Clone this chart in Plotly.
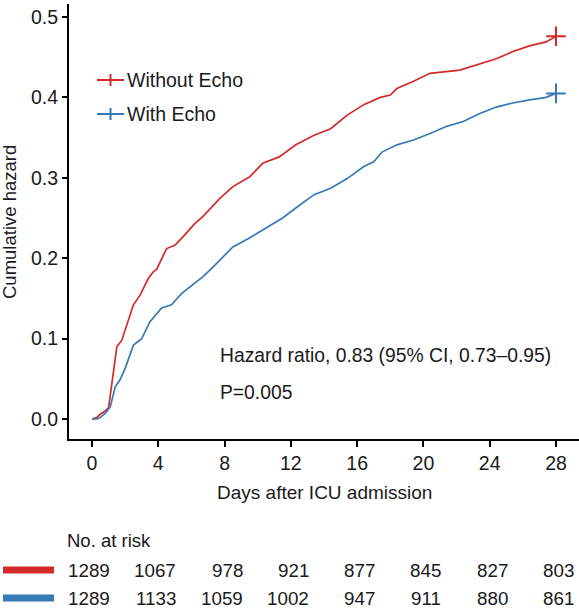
import plotly.graph_objects as go

# ---- data ----
red_days = [0, 0.3, 0.5, 0.8, 1.0, 1.1, 1.3, 1.5, 1.8, 2.2, 2.5, 2.9, 3.4, 3.7, 3.9, 4.5, 5.0, 5.6,
            6.2, 6.7, 7.7, 8.5, 9.5, 10.3, 11.3, 12.3, 13.4, 14.4, 15.4, 16.4, 17.4, 18.0, 18.4,
            19.4, 20.4, 22.2, 23.4, 24.4, 25.4, 26.4, 27.4, 28]
red_haz = [0, 0.002, 0.006, 0.010, 0.014, 0.028, 0.060, 0.090, 0.098, 0.123, 0.142, 0.154, 0.175,
           0.183, 0.186, 0.212, 0.216, 0.229, 0.243, 0.252, 0.274, 0.289, 0.301, 0.318, 0.326,
           0.341, 0.353, 0.361, 0.378, 0.391, 0.400, 0.403, 0.411, 0.420, 0.430, 0.434, 0.442,
           0.448, 0.457, 0.464, 0.469, 0.476]
blue_days = [0, 0.3, 0.5, 0.8, 1.1, 1.4, 1.7, 2.0, 2.5, 3.0, 3.5, 4.2, 4.8, 5.4, 6.2, 6.7, 7.3, 8.5,
             9.5, 10.5, 11.5, 12.4, 13.4, 14.4, 15.4, 16.4, 17.0, 17.5, 18.4, 19.4, 20.4, 21.4,
             22.4, 23.4, 24.4, 25.4, 26.4, 27.4, 28]
blue_haz = [0, 0.0, 0.002, 0.007, 0.015, 0.040, 0.049, 0.063, 0.092, 0.100, 0.121, 0.138, 0.142,
            0.156, 0.169, 0.177, 0.189, 0.214, 0.225, 0.237, 0.250, 0.264, 0.279, 0.287, 0.299,
            0.314, 0.320, 0.332, 0.341, 0.347, 0.355, 0.364, 0.370, 0.380, 0.388, 0.393, 0.397,
            0.400, 0.405]

x_ticks = [0, 4, 8, 12, 16, 20, 24, 28]
y_ticks = [0.0, 0.1, 0.2, 0.3, 0.4, 0.5]
risk_without = [1289, 1067, 978, 921, 877, 845, 827, 803]
risk_with = [1289, 1133, 1059, 1002, 947, 911, 880, 861]
series_names = ["Without Echo", "With Echo"]
hr_text = "Hazard ratio, 0.83 (95% CI, 0.73\u20130.95)"
p_text = "P=0.005"
x_title = "Days after ICU admission"
y_title = "Cumulative hazard"

RED = "#d42a2a"
BLUE = "#3579b5"
FONT = "Liberation Sans, Arial, Helvetica, sans-serif"
TXT = "#1a1a1a"

fig = go.Figure()
for xs, ys, col, name in [(red_days, red_haz, RED, series_names[0]),
                          (blue_days, blue_haz, BLUE, series_names[1])]:
    fig.add_trace(go.Scatter(x=xs, y=ys, mode="lines", line=dict(color=col, width=1.7),
                             name=name, showlegend=False, hoverinfo="skip"))
    fig.add_trace(go.Scatter(x=[xs[-1]], y=[ys[-1]], mode="markers",
                             marker=dict(symbol="cross-thin", size=14, line=dict(color=col, width=2)),
                             showlegend=False, hoverinfo="skip"))

# plot area mapping: left 69px, top 4px, bottom 439px, right 579px
W, H = 579, 608
L, T, B = 69, 4, 439
PH = B - T
PW = W - L

def py(ypx):
    return (B - ypx) / PH

def px(xpx):
    return (xpx - L) / PW

shapes = []
annotations = []

# manual legend
for i, (name, col) in enumerate(zip(series_names, [RED, BLUE])):
    yl = 80 + 34 * i
    shapes.append(dict(type="line", xref="paper", yref="paper", x0=px(97), x1=px(124),
                       y0=py(yl), y1=py(yl), line=dict(color=col, width=2)))
    shapes.append(dict(type="line", xref="paper", yref="paper", x0=px(110.5), x1=px(110.5),
                       y0=py(yl - 6), y1=py(yl + 6), line=dict(color=col, width=2)))
    annotations.append(dict(text=name, xref="paper", yref="paper", x=px(125), y=py(yl),
                            xanchor="left", yanchor="middle", showarrow=False,
                            font=dict(size=19.5, color=TXT, family=FONT)))

annotations.append(dict(text=hr_text, xref="paper", yref="paper", x=px(218), y=py(355),
                        xanchor="left", yanchor="middle", showarrow=False,
                        font=dict(size=19.3, color=TXT, family=FONT)))
annotations.append(dict(text=p_text, xref="paper", yref="paper", x=px(218), y=py(392),
                        xanchor="left", yanchor="middle", showarrow=False,
                        font=dict(size=19.3, color=TXT, family=FONT)))

# axis titles
annotations.append(dict(text=x_title, xref="paper", yref="paper", x=px(324), y=py(492),
                        xanchor="center", yanchor="middle", showarrow=False,
                        font=dict(size=19, color=TXT, family=FONT)))
annotations.append(dict(text=y_title, xref="paper", yref="paper", x=px(10), y=py(222),
                        xanchor="center", yanchor="middle", showarrow=False, textangle=-90,
                        font=dict(size=18.5, color=TXT, family=FONT)))

# risk table
annotations.append(dict(text="No. at risk", xref="paper", yref="paper", x=px(65), y=py(540),
                        xanchor="left", yanchor="middle", showarrow=False,
                        font=dict(size=18.5, color=TXT, family=FONT)))
for row, (vals, col) in enumerate([(risk_without, RED), (risk_with, BLUE)]):
    yr = 570 + 28 * row
    shapes.append(dict(type="rect", xref="paper", yref="paper", x0=px(3), x1=px(54),
                       y0=py(yr - 3.5), y1=py(yr + 3.5), fillcolor=col, line=dict(width=0)))
    for t, v in zip(x_ticks, vals):
        annotations.append(dict(text=str(v), xref="x", yref="paper", x=t, y=py(yr),
                                xanchor="right", yanchor="middle", xshift=20, showarrow=False,
                                font=dict(size=18.8, color=TXT, family=FONT)))

x_per_day = (556 - 92) / 28.0
x_range = [(L - 92) / x_per_day, (W - 92) / x_per_day]
y_per_unit = 804.0
y_range = [-(B - 419) / y_per_unit, (419 - T) / y_per_unit]

fig.update_layout(
    width=W, height=H,
    margin=dict(l=L, r=0, t=T, b=H - B, pad=0),
    paper_bgcolor="white", plot_bgcolor="white",
    font=dict(family=FONT, color=TXT, size=19),
    shapes=shapes, annotations=annotations, showlegend=False,
    xaxis=dict(range=x_range, tickvals=x_ticks, ticktext=[str(t) for t in x_ticks],
               showgrid=False, zeroline=False, showline=True, linecolor="black", linewidth=2,
               ticks="outside", ticklen=6, tickwidth=2, tickcolor="black",
               tickfont=dict(size=19.5, family=FONT, color=TXT)),
    yaxis=dict(range=y_range, tickvals=y_ticks, ticktext=[f"{v:.1f}" for v in y_ticks],
               showgrid=False, zeroline=False, showline=True, linecolor="black", linewidth=2,
               ticks="outside", ticklen=5, tickwidth=2, tickcolor="black",
               tickfont=dict(size=19.5, family=FONT, color=TXT)),
)

fig.write_html("out.html", config={"displayModeBar": False},
               post_script="document.body.style.margin='0';")
